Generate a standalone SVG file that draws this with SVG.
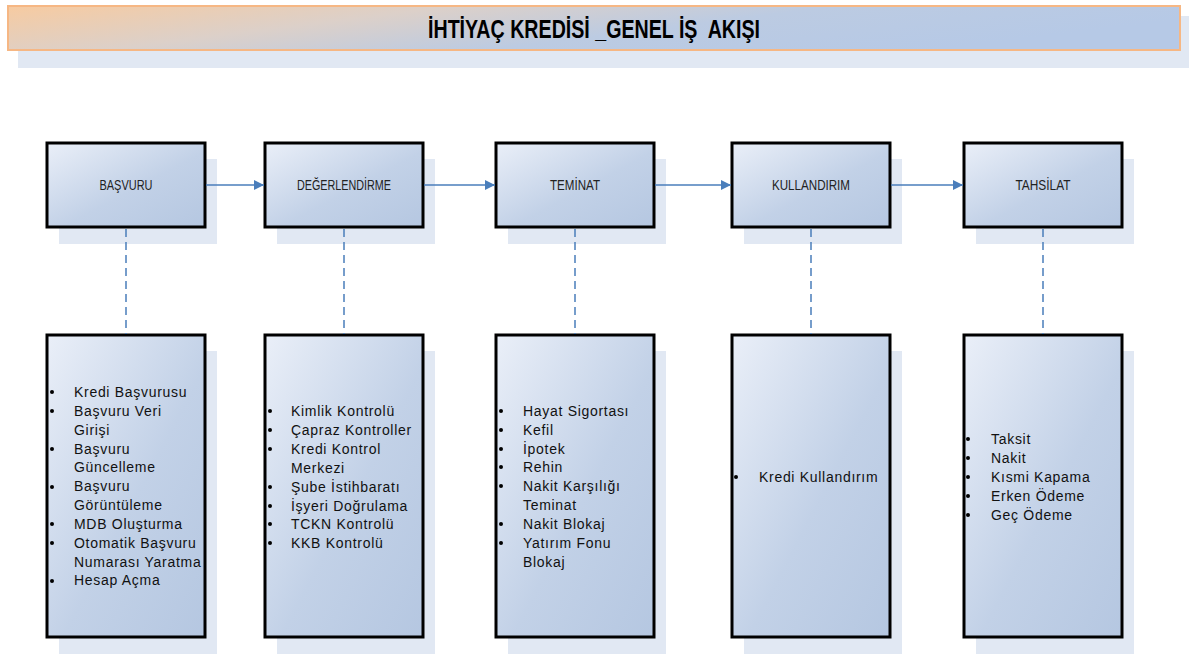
<svg xmlns="http://www.w3.org/2000/svg" width="1189" height="655" viewBox="0 0 1189 655">
<defs>
<linearGradient id="gTitle" x1="0" y1="0" x2="1" y2="0.3">
<stop offset="0" stop-color="#f7cba1"/>
<stop offset="0.35" stop-color="#dcd0c9"/>
<stop offset="0.65" stop-color="#bccbe2"/>
<stop offset="1" stop-color="#b6c9e6"/>
</linearGradient>
<linearGradient id="gBox" x1="0" y1="0" x2="1" y2="1">
<stop offset="0" stop-color="#eaeff8"/>
<stop offset="0.55" stop-color="#c2d1e7"/>
<stop offset="1" stop-color="#b5c7e1"/>
</linearGradient>
<marker id="arr" viewBox="0 0 10 10" refX="10" refY="5" markerWidth="10" markerHeight="10" markerUnits="userSpaceOnUse" orient="auto">
<path d="M0,0 L10,5 L0,10 z" fill="#4a7ebb"/>
</marker>
</defs>
<style>
.shadow{fill:#e1e8f3;}
.box{fill:url(#gBox);stroke:#000;stroke-width:3;}
.lbl{font-family:"Liberation Sans",Arial,sans-serif;font-size:15px;fill:#222;text-anchor:middle;}
.list{font-family:"Liberation Sans",Arial,sans-serif;font-size:14px;letter-spacing:0.7px;fill:#111;}
.bul{fill:#000;}
.flow{stroke:#4a7ebb;stroke-width:1.5;fill:none;}
.dash{stroke:#4a7ebb;stroke-width:1.5;fill:none;stroke-dasharray:8,5;}
</style>
<rect width="1189" height="655" fill="#fff"/>
<g id="title">
<rect x="18" y="16" width="1171" height="52" class="shadow"/>
<rect x="8" y="6" width="1172" height="44" fill="url(#gTitle)" stroke="#f6b784" stroke-width="2"/>
<text x="594" y="38" font-family="'Liberation Sans',Arial,sans-serif" font-weight="bold" font-size="25" text-anchor="middle" textLength="332" lengthAdjust="spacingAndGlyphs" fill="#000" style="white-space:pre">İHTİYAÇ KREDİSİ _GENEL İŞ  AKIŞI</text>
</g>
<g id="n-basvuru">
<rect x="59" y="159" width="158" height="85" class="shadow"/>
<rect x="47" y="143" width="158" height="84" class="box"/>
<text x="126" y="190" class="lbl" textLength="53" lengthAdjust="spacingAndGlyphs">BAŞVURU</text>
</g>
<g id="n-degerlendirme">
<rect x="277" y="159" width="158" height="85" class="shadow"/>
<rect x="265" y="143" width="158" height="84" class="box"/>
<text x="344" y="190" class="lbl" textLength="94" lengthAdjust="spacingAndGlyphs">DEĞERLENDİRME</text>
</g>
<g id="n-teminat">
<rect x="508" y="159" width="158" height="85" class="shadow"/>
<rect x="496" y="143" width="158" height="84" class="box"/>
<text x="575" y="190" class="lbl" textLength="50" lengthAdjust="spacingAndGlyphs">TEMİNAT</text>
</g>
<g id="n-kullandirim">
<rect x="744" y="159" width="158" height="85" class="shadow"/>
<rect x="732" y="143" width="158" height="84" class="box"/>
<text x="811" y="190" class="lbl" textLength="78" lengthAdjust="spacingAndGlyphs">KULLANDIRIM</text>
</g>
<g id="n-tahsilat">
<rect x="976" y="159" width="158" height="85" class="shadow"/>
<rect x="964" y="143" width="158" height="84" class="box"/>
<text x="1043" y="190" class="lbl" textLength="55" lengthAdjust="spacingAndGlyphs">TAHSİLAT</text>
</g>
<g id="d-basvuru">
<rect x="59" y="351" width="158" height="303" class="shadow"/>
<rect x="47" y="335" width="158" height="302" class="box"/>
<g class="bul">
<circle cx="52" cy="392" r="2"/><circle cx="52" cy="411" r="2"/><circle cx="52" cy="449" r="2"/><circle cx="52" cy="487" r="2"/><circle cx="52" cy="524" r="2"/><circle cx="52" cy="543" r="2"/><circle cx="52" cy="581" r="2"/>
</g>
<text class="list"><tspan x="74" y="397">Kredi Başvurusu</tspan><tspan x="74" y="416">Başvuru Veri</tspan><tspan x="74" y="435">Girişi</tspan><tspan x="74" y="454">Başvuru</tspan><tspan x="74" y="472">Güncelleme</tspan><tspan x="74" y="491">Başvuru</tspan><tspan x="74" y="510">Görüntüleme</tspan><tspan x="74" y="529">MDB Oluşturma</tspan><tspan x="74" y="548">Otomatik Başvuru</tspan><tspan x="74" y="567">Numarası Yaratma</tspan><tspan x="74" y="585">Hesap Açma</tspan></text>
</g>
<g id="d-degerlendirme">
<rect x="277" y="351" width="158" height="303" class="shadow"/>
<rect x="265" y="335" width="158" height="302" class="box"/>
<g class="bul">
<circle cx="270" cy="411" r="2"/><circle cx="270" cy="430" r="2"/><circle cx="270" cy="449" r="2"/><circle cx="270" cy="487" r="2"/><circle cx="270" cy="506" r="2"/><circle cx="270" cy="524" r="2"/><circle cx="270" cy="543" r="2"/>
</g>
<text class="list"><tspan x="291" y="416">Kimlik Kontrolü</tspan><tspan x="291" y="435">Çapraz Kontroller</tspan><tspan x="291" y="454">Kredi Kontrol</tspan><tspan x="291" y="473">Merkezi</tspan><tspan x="291" y="492">Şube İstihbaratı</tspan><tspan x="291" y="511">İşyeri Doğrulama</tspan><tspan x="291" y="529">TCKN Kontrolü</tspan><tspan x="291" y="548">KKB Kontrolü</tspan></text>
</g>
<g id="d-teminat">
<rect x="508" y="351" width="158" height="303" class="shadow"/>
<rect x="496" y="335" width="158" height="302" class="box"/>
<g class="bul">
<circle cx="501" cy="411" r="2"/><circle cx="501" cy="430" r="2"/><circle cx="501" cy="449" r="2"/><circle cx="501" cy="467" r="2"/><circle cx="501" cy="486" r="2"/><circle cx="501" cy="524" r="2"/><circle cx="501" cy="543" r="2"/>
</g>
<text class="list"><tspan x="523" y="416">Hayat Sigortası</tspan><tspan x="523" y="435">Kefil</tspan><tspan x="523" y="454">İpotek</tspan><tspan x="523" y="472">Rehin</tspan><tspan x="523" y="491">Nakit Karşılığı</tspan><tspan x="523" y="510">Teminat</tspan><tspan x="523" y="529">Nakit Blokaj</tspan><tspan x="523" y="548">Yatırım Fonu</tspan><tspan x="523" y="567">Blokaj</tspan></text>
</g>
<g id="d-kullandirim">
<rect x="744" y="351" width="158" height="303" class="shadow"/>
<rect x="732" y="335" width="158" height="302" class="box"/>
<circle cx="736" cy="477" r="2" class="bul"/>
<text class="list"><tspan x="759" y="482">Kredi Kullandırım</tspan></text>
</g>
<g id="d-tahsilat">
<rect x="976" y="351" width="158" height="303" class="shadow"/>
<rect x="964" y="335" width="158" height="302" class="box"/>
<g class="bul">
<circle cx="968" cy="439" r="2"/><circle cx="968" cy="458" r="2"/><circle cx="968" cy="477" r="2"/><circle cx="968" cy="496" r="2"/><circle cx="968" cy="515" r="2"/>
</g>
<text class="list"><tspan x="991" y="444">Taksit</tspan><tspan x="991" y="463">Nakit</tspan><tspan x="991" y="482">Kısmi Kapama</tspan><tspan x="991" y="501">Erken Ödeme</tspan><tspan x="991" y="520">Geç Ödeme</tspan></text>
</g>
<g id="connectors">
<line x1="206" y1="185" x2="264" y2="185" class="flow" marker-end="url(#arr)"/>
<line x1="424" y1="185" x2="495" y2="185" class="flow" marker-end="url(#arr)"/>
<line x1="655" y1="185" x2="731" y2="185" class="flow" marker-end="url(#arr)"/>
<line x1="891" y1="185" x2="963" y2="185" class="flow" marker-end="url(#arr)"/>
<line x1="126" y1="229" x2="126" y2="334" class="dash"/>
<line x1="344" y1="229" x2="344" y2="334" class="dash"/>
<line x1="575" y1="229" x2="575" y2="334" class="dash"/>
<line x1="811" y1="229" x2="811" y2="334" class="dash"/>
<line x1="1043" y1="229" x2="1043" y2="334" class="dash"/>
</g>
</svg>
